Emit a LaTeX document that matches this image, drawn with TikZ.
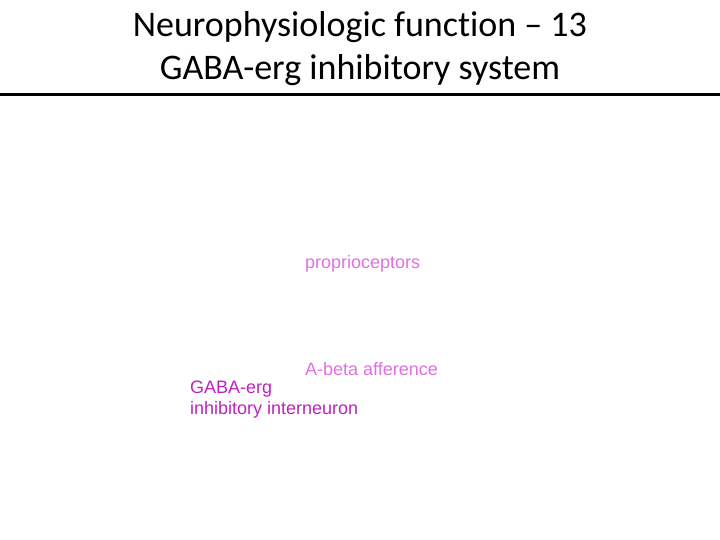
\documentclass[tikz,border=0pt]{standalone}
\usepackage{fontspec}
\setmainfont[Ligatures=NoCommon]{Carlito}
\newfontfamily\arialfont{Liberation Sans}
\usepackage{xcolor}
\definecolor{lightmag}{HTML}{E070E0}
\definecolor{darkmag}{HTML}{C020C0}
\tikzset{
    titletext/.style={anchor=base, font=\fontsize{36}{43}\selectfont},
    labeltext/.style={anchor=base west, inner sep=0pt, font=\arialfont\fontsize{18}{21}\selectfont}
}

\begin{document}
\begin{tikzpicture}[x=1pt, y=-1pt]
        \useasboundingbox (0,0) rectangle (720,540);
        \node[titletext] (title1) at (360,37) {Neurophysiologic function -- 13};
        \node[titletext] (title2) at (360,80) {GABA-erg inhibitory system};
        \draw[line width=3pt] (0,94.5) -- (720,94.5);
        \node[labeltext, lightmag] (proprio) at (305,268) {proprioceptors};
        \node[labeltext, lightmag] (abeta) at (305,375) {A-beta afference};
        \node[labeltext, darkmag] (gaba) at (190,393) {GABA-erg};
        \node[labeltext, darkmag] (inter) at (190,414) {inhibitory interneuron};
    \end{tikzpicture}
\end{document}
